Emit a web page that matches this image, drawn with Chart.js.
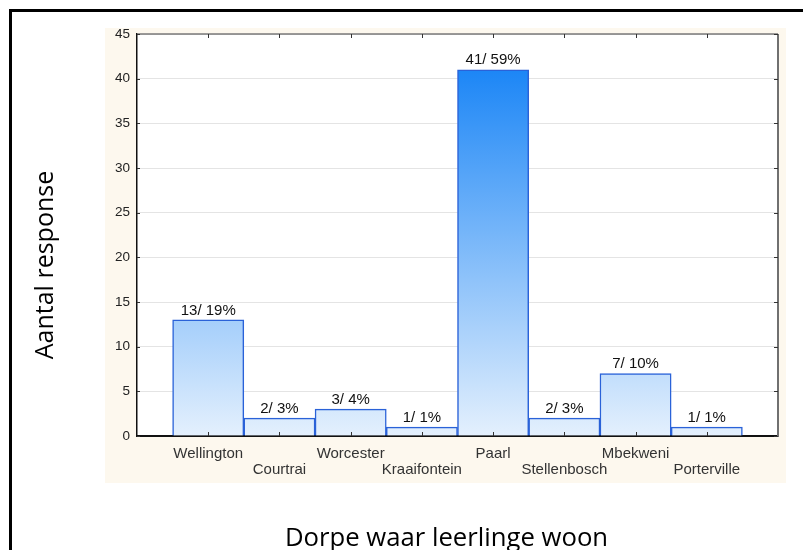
<!DOCTYPE html>
<html>
<head>
<meta charset="utf-8">
<script src="https://cdn.jsdelivr.net/npm/chart.js@4/dist/chart.umd.min.js"></script>
<style>
  html, body { margin: 0; padding: 0; background: #fff; overflow: hidden; width: 803px; height: 550px; }
  #frame { position: absolute; left: 9px; top: 9px; width: 900px; height: 700px; border-left: 3px solid #000; border-top: 3px solid #000; }
  #c { position: absolute; left: 0; top: 0; }
</style>
</head>
<body>
<div id="frame"></div>
<canvas id="c" width="803" height="570"></canvas>
<script>
// ---- data ----
const towns = ['Wellington', 'Courtrai', 'Worcester', 'Kraaifontein', 'Paarl', 'Stellenbosch', 'Mbekweni', 'Porterville'];
const counts = [13, 2, 3, 1, 41, 2, 7, 1];
const percents = [19, 3, 4, 1, 59, 3, 10, 1];
const yTicks = [0, 5, 10, 15, 20, 25, 30, 35, 40, 45];
const yTitle = 'Aantal response';
const xTitle = 'Dorpe waar leerlinge woon';

const points = counts.map((v, i) => ({ x: i, y: v }));

const backdrop = {
  id: 'backdrop',
  beforeDraw(chart) {
    const { ctx, chartArea: a } = chart;
    ctx.save();
    ctx.fillStyle = '#FDF8EE';
    ctx.fillRect(a.left - 32, a.top - 6, (a.right + 8) - (a.left - 32), (a.bottom + 47) - (a.top - 6));
    ctx.fillStyle = '#FFFFFF';
    ctx.fillRect(a.left, a.top, a.right - a.left, a.bottom - a.top);
    ctx.restore();
  }
};

const frameAndLabels = {
  id: 'frameAndLabels',
  afterDatasetsDraw(chart) {
    const { ctx, chartArea: a, scales } = chart;
    ctx.save();
    // top and right frame lines
    ctx.strokeStyle = '#7A7A7A';
    ctx.lineWidth = 1.5;
    ctx.beginPath();
    ctx.moveTo(a.left, a.top); ctx.lineTo(a.right, a.top);
    ctx.stroke();
    ctx.lineWidth = 2;
    ctx.strokeStyle = '#707070';
    ctx.beginPath();
    ctx.moveTo(a.right, a.top); ctx.lineTo(a.right, a.bottom + 1);
    ctx.stroke();
    // inward tick marks
    ctx.strokeStyle = '#333';
    ctx.lineWidth = 1;
    ctx.beginPath();
    towns.forEach((t, i) => {
      const x = Math.round(scales.x.getPixelForValue(i)) + 0.5;
      ctx.moveTo(x, a.bottom); ctx.lineTo(x, a.bottom - 4);
      ctx.moveTo(x, a.top); ctx.lineTo(x, a.top + 4);
    });
    yTicks.forEach(v => {
      const y = Math.round(scales.y.getPixelForValue(v)) + 0.5;
      ctx.moveTo(a.right, y); ctx.lineTo(a.right - 4, y);
      ctx.moveTo(a.left, y); ctx.lineTo(a.left + 3, y);
    });
    ctx.stroke();
    // value labels
    const meta = chart.getDatasetMeta(0);
    ctx.fillStyle = '#111';
    ctx.font = '15px "Liberation Sans", Arial, sans-serif';
    ctx.textAlign = 'center';
    ctx.textBaseline = 'bottom';
    meta.data.forEach((bar, i) => {
      ctx.fillText(counts[i] + '/ ' + percents[i] + '%', bar.x, bar.y - 2);
    });
    // axis titles
    ctx.fillStyle = '#000';
    ctx.font = '25.7px "Open Sans", sans-serif';
    ctx.textAlign = 'center';
    ctx.textBaseline = 'alphabetic';
    ctx.fillText(xTitle, (a.left + a.right) / 2 - 11, a.bottom + 110);
    ctx.translate(a.left - 84, (a.top + a.bottom) / 2 + 30);
    ctx.rotate(-Math.PI / 2);
    ctx.font = '25px "Open Sans", sans-serif';
    ctx.fillText(yTitle, 0, 0);
    ctx.restore();
  }
};

new Chart(document.getElementById('c'), {
  type: 'bar',
  data: {
    datasets: [{
      data: points,
      barPercentage: 1,
      categoryPercentage: 1,
      borderColor: '#2A62D8',
      borderWidth: 1.5,
      backgroundColor(ctx) {
        const chart = ctx.chart;
        const a = chart.chartArea;
        if (!a) return '#A6D0FA';
        const ys = chart.scales.y;
        const g = chart.ctx.createLinearGradient(0, ys.getPixelForValue(0), 0, ys.getPixelForValue(Math.max(...counts)));
        g.addColorStop(0, '#E4F0FD');
        g.addColorStop(1, '#1C86F6');
        return g;
      }
    }]
  },
  options: {
    responsive: false,
    animation: false,
    layout: { padding: { left: 0, top: 34, right: 25, bottom: 0 } },
    plugins: { legend: { display: false }, tooltip: { enabled: false } },
    scales: {
      x: {
        type: 'linear',
        min: -1,
        max: 8,
        offset: false,
        afterFit(scale) { scale.height = 134; },
        grid: { drawOnChartArea: false, drawTicks: false, offset: false },
        border: { display: true, color: '#111', width: 2 },
        ticks: {
          stepSize: 1,
          autoSkip: false,
          maxRotation: 0,
          minRotation: 0,
          padding: 9,
          color: '#333',
          font: { family: '"Liberation Sans", Arial, sans-serif', size: 15, lineHeight: 1.12 },
          callback(value) {
            const i = Math.round(value);
            if (i < 0 || i >= towns.length) return '';
            return i % 2 === 0 ? towns[i] : ['', towns[i]];
          }
        },
        title: { display: false }
      },
      y: {
        min: 0,
        max: 45,
        afterFit(scale) { scale.width = 137; },
        afterBuildTicks(scale) { scale.ticks = yTicks.map(v => ({ value: v })); },
        grid: { color: '#E4E4E4', lineWidth: 1, drawTicks: false },
        border: { display: true, color: '#111', width: 1.5 },
        ticks: {
          padding: 7,
          color: '#222',
          font: { family: '"Liberation Sans", Arial, sans-serif', size: 13.5 }
        },
        title: { display: false }
      }
    }
  },
  plugins: [backdrop, frameAndLabels]
});
</script>
</body>
</html>
